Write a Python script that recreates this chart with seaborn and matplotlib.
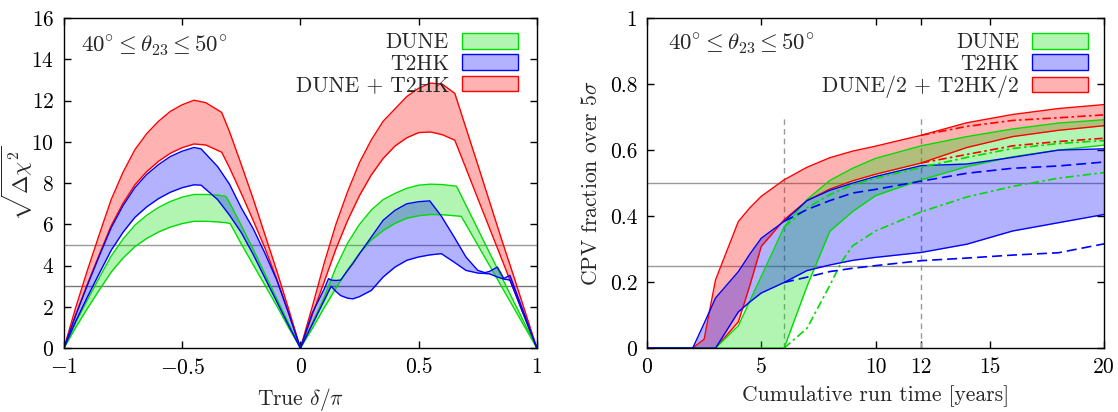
import matplotlib
matplotlib.use("Agg")
import matplotlib.pyplot as plt
from matplotlib.patches import Patch
import seaborn as sns

sns.set_theme(style="ticks")
plt.rcParams["font.family"] = "serif"
plt.rcParams["font.serif"] = ["cmr10", "DejaVu Serif"]
plt.rcParams["mathtext.fontset"] = "cm"
plt.rcParams["axes.formatter.use_mathtext"] = True
plt.rcParams["axes.unicode_minus"] = True

# ---- left panel: sqrt(dchi2) vs true delta/pi ----
delta_dune = [-1, -0.95, -0.9, -0.85, -0.8, -0.75, -0.7, -0.65, -0.6, -0.55, -0.5, -0.45, -0.4, -0.35, -0.315, -0.297,
              -0.25, -0.2, -0.15, -0.1, -0.05, 0,
              0.05, 0.1, 0.15, 0.2, 0.25, 0.3, 0.35, 0.4, 0.45, 0.5, 0.55, 0.6, 0.66, 0.68, 0.7, 0.75, 0.8, 0.85, 0.9, 0.95, 1]
dune_hi = [0, 1.23, 2.35, 3.43, 4.47, 5.29, 5.96, 6.44, 6.82, 7.11, 7.32, 7.45, 7.45, 7.42, 7.36, 7.0,
           5.95, 4.8, 3.6, 2.4, 1.2, 0,
           1.2, 2.45, 3.9, 5.1, 6.0, 6.7, 7.2, 7.5, 7.75, 7.9, 7.95, 7.93, 7.85, 7.4, 6.93, 5.78, 4.62, 3.47, 2.31, 1.16, 0]
dune_lo = [0, 1.01, 1.94, 2.83, 3.69, 4.37, 4.92, 5.32, 5.63, 5.87, 6.04, 6.15, 6.15, 6.12, 6.08, 6.04,
           5.05, 4.05, 3.05, 2.05, 1.0, 0,
           0.95, 1.95, 2.9, 3.8, 4.6, 5.25, 5.7, 6.05, 6.3, 6.42, 6.48, 6.47, 6.41, 6.39, 6.0, 5.0, 4.0, 3.0, 2.0, 1.0, 0]

delta_t2hk = [-1, -0.95, -0.9, -0.85, -0.8, -0.75, -0.7, -0.65, -0.6, -0.55, -0.5, -0.45, -0.42, -0.35, -0.3,
              -0.25, -0.2, -0.15, -0.1, -0.05, 0,
              0.05, 0.1, 0.119, 0.13, 0.15, 0.17, 0.2, 0.222, 0.25, 0.3, 0.35, 0.4, 0.45, 0.5, 0.547, 0.596,
              0.65, 0.7, 0.75, 0.78, 0.8, 0.833, 0.86, 0.886, 0.9, 0.95, 1]
t2hk_hi = [0, 1.6, 3.07, 4.48, 5.84, 6.91, 7.78, 8.42, 8.9, 9.29, 9.55, 9.73, 9.66, 8.8, 7.95,
           6.8, 5.8, 4.6, 3.3, 1.7, 0,
           1.7, 2.85, 3.37, 3.3, 3.28, 3.3, 3.77, 4.1, 4.58, 5.39, 6.2, 6.68, 7.0, 7.1, 7.14, 6.4,
           5.39, 4.42, 3.77, 3.66, 3.72, 3.93, 3.38, 3.53, 3.1, 1.55, 0]
t2hk_lo = [0, 1.31, 2.5, 3.64, 4.75, 5.62, 6.34, 6.85, 7.25, 7.56, 7.78, 7.92, 7.9, 7.2, 6.45,
           5.6, 4.55, 3.4, 2.25, 1.1, 0,
           1.15, 2.3, 2.75, 3.0, 2.75, 2.55, 2.42, 2.39, 2.5, 2.8, 3.45, 3.93, 4.26, 4.42, 4.52, 4.58,
           4.17, 3.77, 3.64, 3.62, 3.6, 3.45, 3.35, 3.3, 2.9, 1.45, 0]

delta_comb = [-1, -0.95, -0.9, -0.85, -0.8, -0.75, -0.7, -0.65, -0.6, -0.55, -0.5, -0.45, -0.4, -0.333, -0.3,
              -0.25, -0.2, -0.15, -0.1, -0.05, 0,
              0.05, 0.1, 0.15, 0.2, 0.25, 0.3, 0.35, 0.4, 0.45, 0.5, 0.55, 0.6, 0.653, 0.7, 0.75, 0.8, 0.85, 0.9, 0.95, 1]
comb_hi = [0, 1.98, 3.8, 5.53, 7.21, 8.53, 9.62, 10.4, 11.0, 11.48, 11.8, 12.02, 11.9, 11.43, 10.5,
           8.9, 7.25, 5.5, 3.75, 1.9, 0,
           2.0, 4.1, 6.0, 7.6, 9.0, 10.1, 11.0, 11.6, 12.2, 12.6, 12.85, 12.8, 12.35, 10.68, 8.9, 7.1, 5.3, 3.56, 1.78, 0]
comb_lo = [0, 1.63, 3.13, 4.55, 5.94, 7.03, 7.92, 8.56, 9.06, 9.45, 9.72, 9.9, 9.85, 9.5, 8.75,
           7.5, 6.2, 4.85, 3.35, 1.7, 0,
           1.6, 3.2, 4.8, 6.2, 7.4, 8.4, 9.2, 9.8, 10.2, 10.45, 10.48, 10.35, 10.08, 8.72, 7.26, 5.81, 4.36, 2.9, 1.45, 0]

# ---- right panel: CPV fraction over 5 sigma vs run time ----
years = [0, 2, 2.5, 3, 4, 4.5, 5, 6, 7, 8, 9, 10, 12, 14, 16, 18, 20]
comb_frac_hi = [0, 0, 0.027, 0.207, 0.384, 0.425, 0.46, 0.51, 0.548, 0.577, 0.597, 0.612, 0.645, 0.683, 0.708, 0.726, 0.738]
comb_frac_lo = [0, 0, 0, 0, 0.08, 0.19, 0.308, 0.389, 0.447, 0.482, 0.507, 0.527, 0.561, 0.608, 0.641, 0.66, 0.674]
dune_frac_hi = [0, 0, 0, 0, 0.068, 0.143, 0.217, 0.367, 0.45, 0.508, 0.545, 0.575, 0.613, 0.641, 0.664, 0.682, 0.692]
dune_frac_lo = [0, 0, 0, 0, 0, 0, 0, 0, 0.187, 0.354, 0.414, 0.462, 0.51, 0.55, 0.58, 0.6, 0.615]
t2hk_frac_hi = [0, 0, 0.075, 0.152, 0.232, 0.285, 0.333, 0.384, 0.447, 0.478, 0.5, 0.52, 0.553, 0.558, 0.578, 0.6, 0.604]
t2hk_frac_lo = [0, 0, 0, 0, 0.11, 0.14, 0.167, 0.199, 0.235, 0.252, 0.266, 0.275, 0.29, 0.315, 0.355, 0.38, 0.405]

# staged scenarios (broken lines)
years_late = [12, 14, 16, 18, 20]
comb_staged_hi = [0.645, 0.672, 0.69, 0.698, 0.707]
comb_staged_lo = [0.561, 0.587, 0.613, 0.626, 0.636]
years_mid = [6, 7, 8, 9, 10, 12, 14, 16, 18, 20]
dune_staged_hi = [0.367, 0.425, 0.465, 0.495, 0.515, 0.548, 0.578, 0.605, 0.62, 0.629]
t2hk_staged_hi = [0.384, 0.42, 0.447, 0.47, 0.481, 0.506, 0.53, 0.545, 0.552, 0.564]
t2hk_staged_lo = [0.199, 0.215, 0.232, 0.242, 0.25, 0.265, 0.273, 0.282, 0.289, 0.316]
years_dune_lo = [6, 7, 8, 8.5, 9, 10, 12, 14, 16, 18, 20]
dune_staged_lo = [0, 0.06, 0.19, 0.26, 0.31, 0.355, 0.413, 0.458, 0.49, 0.515, 0.532]

GREEN = "#00dd00"
BLUE = "#0000ff"
RED = "#ff0000"
FS = 15.5
FS_MATH = 16.5

fig = plt.figure(figsize=(11.18, 4.12), dpi=100)
ax1 = fig.add_axes([0.0572, 0.155, 0.423, 0.801])
ax2 = fig.add_axes([0.5787, 0.155, 0.4088, 0.801])


def band(ax, x, lo, hi, color):
    ax.fill_between(x, lo, hi, color=color, alpha=0.3, lw=0)
    sns.lineplot(x=x, y=hi, color=color, lw=1.0, ax=ax, sort=False)
    sns.lineplot(x=x, y=lo, color=color, lw=1.0, ax=ax, sort=False)


def legend(ax, labels, anchor):
    handles = [Patch(facecolor=(0, 0.87, 0, 0.3), edgecolor=GREEN, lw=1, label=labels[0]),
               Patch(facecolor=(0, 0, 1, 0.3), edgecolor=BLUE, lw=1, label=labels[1]),
               Patch(facecolor=(1, 0, 0, 0.3), edgecolor=RED, lw=1, label=labels[2])]
    ax.legend(handles=handles, loc="upper right", bbox_to_anchor=anchor, frameon=False, markerfirst=False,
              fontsize=FS, handlelength=2.6, handleheight=0.75, labelspacing=0.08, handletextpad=0.6,
              borderpad=0, borderaxespad=0)


# left panel
ax1.axhline(5, color="#999999", lw=1.0, zorder=1)
ax1.axhline(3, color="#777777", lw=1.0, zorder=1)
band(ax1, delta_comb, comb_lo, comb_hi, RED)
band(ax1, delta_dune, dune_lo, dune_hi, GREEN)
band(ax1, delta_t2hk, t2hk_lo, t2hk_hi, BLUE)
ax1.set_xlim(-1, 1)
ax1.set_ylim(0, 16)
ax1.set_xticks([-1, -0.5, 0, 0.5, 1])
ax1.set_xticklabels([r"$-1$", r"$-0.5$", "0", "0.5", "1"])
ax1.set_yticks(range(0, 17, 2))
ax1.set_xlabel(r"True $\delta/\pi$", fontsize=FS, labelpad=6)
ax1.set_ylabel(r"$\sqrt{\Delta\chi^{2}}$", fontsize=16)
ax1.yaxis.set_label_coords(-0.062, 0.5)
ax1.text(0.035, 0.915, r"$40^{\circ} \leq \theta_{23} \leq 50^{\circ}$", transform=ax1.transAxes,
         fontsize=FS_MATH, va="center", ha="left")
legend(ax1, ["DUNE", "T2HK", "DUNE + T2HK"], (0.96, 0.955))

# right panel
ax2.axhline(0.5, color="#999999", lw=1.0, zorder=1)
ax2.axhline(0.25, color="#999999", lw=1.0, zorder=1)
ax2.plot([6, 6], [0, 0.7], color="#999999", lw=1.0, ls=(0, (4, 3)), zorder=1)
ax2.plot([12, 12], [0, 0.7], color="#999999", lw=1.0, ls=(0, (4, 3)), zorder=1)
band(ax2, years, comb_frac_lo, comb_frac_hi, RED)
band(ax2, years, dune_frac_lo, dune_frac_hi, GREEN)
band(ax2, years, t2hk_frac_lo, t2hk_frac_hi, BLUE)
dashdot = (0, (5, 2, 1.5, 2))
sns.lineplot(x=years_late, y=comb_staged_hi, color=RED, lw=1.2, ax=ax2, linestyle=dashdot)
sns.lineplot(x=years_late, y=comb_staged_lo, color=RED, lw=1.2, ax=ax2, linestyle=dashdot)
sns.lineplot(x=years_mid, y=dune_staged_hi, color=GREEN, lw=1.2, ax=ax2, linestyle=dashdot)
sns.lineplot(x=years_dune_lo, y=dune_staged_lo, color=GREEN, lw=1.2, ax=ax2, linestyle=dashdot)
sns.lineplot(x=years_mid, y=t2hk_staged_hi, color=BLUE, lw=1.2, ax=ax2, linestyle=(0, (6, 3)))
sns.lineplot(x=years_mid, y=t2hk_staged_lo, color=BLUE, lw=1.2, ax=ax2, linestyle=(0, (6, 3)))
ax2.set_xlim(0, 20)
ax2.set_ylim(0, 1)
ax2.set_xticks([0, 5, 10, 12, 15, 20])
ax2.set_xticklabels(["0", "5", "10", "12", "15", "20"])
ax2.set_yticks([0, 0.2, 0.4, 0.6, 0.8, 1])
ax2.set_yticklabels(["0", "0.2", "0.4", "0.6", "0.8", "1"])
ax2.set_xlabel("Cumulative run time [years]", fontsize=FS, labelpad=6)
ax2.set_ylabel(r"CPV fraction over $5\sigma$", fontsize=FS)
ax2.yaxis.set_label_coords(-0.1, 0.5)
ax2.text(0.045, 0.92, r"$40^{\circ} \leq \theta_{23} \leq 50^{\circ}$", transform=ax2.transAxes,
         fontsize=FS_MATH, va="center", ha="left")
legend(ax2, ["DUNE", "T2HK", "DUNE/2 + T2HK/2"], (0.965, 0.955))

for ax in (ax1, ax2):
    ax.tick_params(direction="in", length=5, width=1, top=True, right=True, labelsize=FS, pad=7, colors="black")
    for s in ax.spines.values():
        s.set_color("black")
        s.set_linewidth(1.0)
    ax.grid(False)

fig.savefig("out.png", dpi=100)
